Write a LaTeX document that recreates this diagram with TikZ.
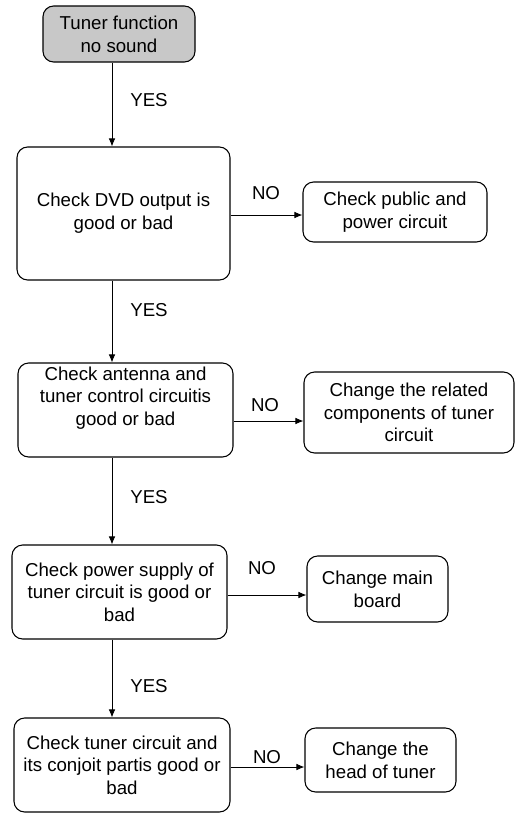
\documentclass[tikz,border=0pt]{standalone}
\usepackage{fontspec}
\setmainfont{Liberation Sans}
\usepackage{xcolor}
\usepackage{tikz}
\usetikzlibrary{calc}
\usetikzlibrary{arrows.meta}
\definecolor{startgray}{RGB}{200,200,200}
\tikzset{ step_box/.style = {rectangle, rounded corners=8pt, draw, line width=0.8pt, align=center, inner sep=0pt, font=\fontsize{14pt}{17pt}\selectfont} }
\tikzset{ flow_arrow/.style = {-{Latex[length=6pt,width=5pt]}, line width=0.7pt} }
\tikzset{ flow_label/.style = {font=\fontsize{14pt}{17pt}\selectfont} }
\begin{document}
\begin{tikzpicture}[x=0.75pt,y=-0.75pt]
\useasboundingbox (0,0) rectangle (515,814);
\node[step_box, fill=startgray, minimum width=114pt, minimum height=42pt] (start) at (119,34) {Tuner function\\no sound};
\node[step_box, minimum width=159.75pt, minimum height=99.75pt] (dvd) at (123.5,213.5) {Check DVD output is\\good or bad};
\node[step_box, minimum width=138pt, minimum height=45pt] (public) at (395,212) {Check public and\\power circuit};
\node[step_box, minimum width=161.25pt, minimum height=70.5pt, text depth=21pt] (ant) at (125.5,410) {Check antenna and\\tuner control circuitis\\good or bad};
\node[step_box, minimum width=157.5pt, minimum height=60.75pt] (related) at (409,412.5) {Change the related\\components of tuner\\circuit};
\node[step_box, minimum width=161.25pt, minimum height=70.5pt] (power) at (119.5,592) {Check power supply of\\tuner circuit is good or\\bad};
\node[step_box, minimum width=105.75pt, minimum height=49.5pt] (main) at (377.5,589) {Change main\\board};
\node[step_box, minimum width=162pt, minimum height=70.5pt] (tuner) at (122,765) {Check tuner circuit and\\its conjoit partis good or\\bad};
\node[step_box, minimum width=113.25pt, minimum height=48pt] (head) at (380.5,760) {Change the\\head of tuner};
\coordinate (spine) at (112,0);
\coordinate (no1) at (0,215);
\coordinate (no2) at (0,421);
\coordinate (no3) at (0,595);
\coordinate (no4) at (0,767);
\node[flow_label] (yes1) at (149,100) {YES};
\node[flow_label] (yes2) at (149,310) {YES};
\node[flow_label] (yes3) at (149,497) {YES};
\node[flow_label] (yes4) at (149,686) {YES};
\node[flow_label] (nolab1) at (266,193) {NO};
\node[flow_label] (nolab2) at (265,405) {NO};
\node[flow_label] (nolab3) at (262,568) {NO};
\node[flow_label] (nolab4) at (267,757) {NO};
\draw[flow_arrow] (start.south -| spine) -- (dvd.north -| spine);
\draw[flow_arrow] (dvd.south -| spine) -- (ant.north -| spine);
\draw[flow_arrow] (ant.south -| spine) -- (power.north -| spine);
\draw[flow_arrow] (power.south -| spine) -- (tuner.north -| spine);
\draw[flow_arrow] (dvd.east |- no1) -- (public.west |- no1);
\draw[flow_arrow] (ant.east |- no2) -- (related.west |- no2);
\draw[flow_arrow] (power.east |- no3) -- (main.west |- no3);
\draw[flow_arrow] (tuner.east |- no4) -- (head.west |- no4);
\end{tikzpicture}
\end{document}
